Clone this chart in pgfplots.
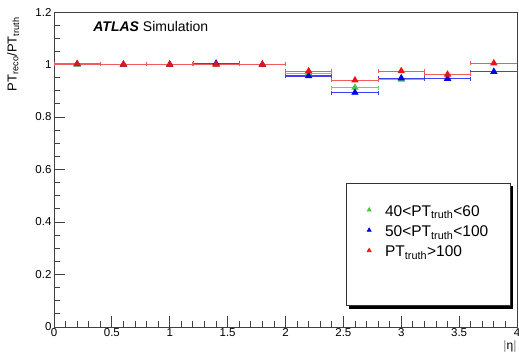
\documentclass[border=0pt]{standalone}
\usepackage{pgfplots}
\pgfplotsset{compat=1.18}
\usepackage{fontspec}
\setmainfont{Liberation Sans}
\usetikzlibrary{shadows}
\definecolor{rgreen}{RGB}{70,200,70}
\definecolor{rblue}{RGB}{0,0,235}
\definecolor{rred}{RGB}{235,20,20}
\begin{document}
\begin{tikzpicture}[x=1pt,y=1pt]
\useasboundingbox (-54,-29) rectangle (465,327);
\begin{axis}[
  at={(0,0)}, anchor=south west,
  scale only axis, width=463pt, height=315pt,
  xmin=0, xmax=4, ymin=0, ymax=1.2,
  xtick={0,0.5,...,4}, ytick={0,0.2,...,1.2},
  xticklabels={0,0.5,1,1.5,2,2.5,3,3.5,4},
  yticklabels={0,0.2,0.4,0.6,0.8,1,1.2},
  minor x tick num=4, minor y tick num=3,
  tick align=inside, tick pos=left,
  major tick length=11pt, minor tick length=6pt,
  axis line style={black!75, line width=0.8pt},
  tick style={black!75, line width=0.8pt},
  ticklabel style={font=\fontsize{11.5}{13}\selectfont},
  /pgf/number format/assume math mode=true,
  xticklabel style={yshift=2pt},
  yticklabel style={xshift=1pt},
  xlabel={$|$η$|$},
  every axis x label/.style={at={(axis description cs:0.985,-0.063)}, anchor=center, font=\fontsize{12}{14}\selectfont},
  ylabel={PT\textsubscript{reco}/PT\textsubscript{truth}},
  every axis y label/.style={at={(axis description cs:-0.088,0.994)}, anchor=east, rotate=90, font=\fontsize{13}{15}\selectfont},
  legend style={at={(axis cs:2.523,0.549)}, anchor=north west,
    draw=black!80, line width=0.6pt, fill=white,
    font=\fontsize{15.5}{16}\selectfont,
    inner xsep=20pt, inner ysep=20pt, row sep=4pt, column sep=12pt,
    drop shadow={shadow xshift=3pt, shadow yshift=-3pt, fill=black, opacity=1}},
  legend cell align=left,
  legend image code/.code={\draw[#1, mark size=2.2pt] plot coordinates {(0.1cm,0.05cm)};},
  error bars/x dir=both, error bars/x explicit, error bars/error mark=|,
]
\addplot[rgreen, only marks, mark=triangle*, mark size=3.5pt, line width=0.8pt,
  error bars/error bar style={rgreen!80, line width=1.1pt},
  error bars/error mark options={rgreen!80, mark size=2pt, line width=0.8pt}]
  coordinates {
  (0.2,1.0) +- (0.2,0)
  (0.6,1.0) +- (0.2,0)
  (1.0,1.0) +- (0.2,0)
  (1.4,1.0) +- (0.2,0)
  (1.8,1.0) +- (0.2,0)
  (2.2,0.967) +- (0.2,0)
  (2.6,0.912) +- (0.2,0)
  (3.0,0.943) +- (0.2,0)
  (3.4,0.946) +- (0.2,0)
  (3.8,0.972) +- (0.2,0)
  };
\addlegendentry{40<PT\textsubscript{truth}<60}
\addplot[rblue, only marks, mark=triangle*, mark size=3.5pt, line width=0.8pt,
  error bars/error bar style={rblue!75, line width=1.1pt},
  error bars/error mark options={rblue!75, mark size=2pt, line width=0.8pt}]
  coordinates {
  (0.2,1.002) +- (0.2,0)
  (0.6,1.0) +- (0.2,0)
  (1.0,1.0) +- (0.2,0)
  (1.4,1.004) +- (0.2,0)
  (1.8,1.0) +- (0.2,0)
  (2.2,0.956) +- (0.2,0)
  (2.6,0.893) +- (0.2,0)
  (3.0,0.948) +- (0.2,0)
  (3.4,0.946) +- (0.2,0)
  (3.8,0.972) +- (0.2,0)
  };
\addlegendentry{50<PT\textsubscript{truth}<100}
\addplot[rred, only marks, mark=triangle*, mark size=3.5pt, line width=0.8pt,
  error bars/error bar style={rred!70, line width=1.1pt},
  error bars/error mark options={rred!70, mark size=2pt, line width=0.8pt}]
  coordinates {
  (0.2,1.002) +- (0.2,0)
  (0.6,1.0) +- (0.2,0)
  (1.0,1.0) +- (0.2,0)
  (1.4,1.0) +- (0.2,0)
  (1.8,1.0) +- (0.2,0)
  (2.2,0.975) +- (0.2,0)
  (2.6,0.940) +- (0.2,0)
  (3.0,0.975) +- (0.2,0)
  (3.4,0.962) +- (0.2,0)
  (3.8,1.005) +- (0.2,0)
  };
\addlegendentry{PT\textsubscript{truth}>100}
\addlegendimage{empty legend}\addlegendentry{\rule{0pt}{16pt}}
\node[anchor=west, font=\fontsize{14}{16}\selectfont] at (axis cs:0.31,1.145) {\textbf{\textit{ATLAS}} Simulation};
\end{axis}
\end{tikzpicture}
\end{document}
